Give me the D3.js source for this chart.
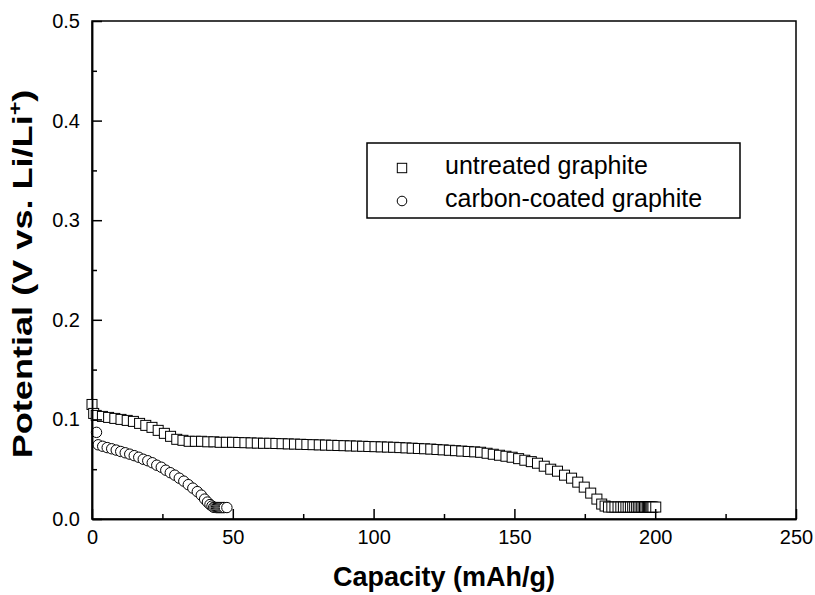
<!DOCTYPE html>
<html>
<head>
<meta charset="utf-8">
<script src="https://cdn.jsdelivr.net/npm/d3@7"></script>
<style>
  body { margin: 0; background: #fff; }
  svg { font-family: "Liberation Sans", Arial, sans-serif; }
</style>
</head>
<body>
<div id="chart"></div>
<script>
// data
const untreatedCap = [0, 0.6, 1.5, 3.7, 5.9, 8.1, 10.3, 12.5, 14.7, 16.9, 19.1, 21.3, 23.5, 25.7, 27.9, 30.1,
  32.3, 34.5, 36.7, 38.9, 41.1, 43.3, 45.5, 47.7, 49.9, 52.1, 54.3, 56.5, 58.7, 60.9, 63.1, 65.3, 67.5,
  69.7, 71.9, 74.1, 76.3, 78.5, 80.7, 82.9, 85.1, 87.3, 89.5, 91.7, 93.9, 96.1, 98.3, 100.5, 102.7, 104.9,
  107.1, 109.3, 111.5, 113.7, 115.9, 118.1, 120.3, 122.5, 124.7, 126.9, 129.1, 131.3, 133.6, 135.9,
  138.0, 140.3, 142.5, 144.7, 147.0, 149.2, 151.5, 153.7, 156.0, 158.2, 160.6, 162.9, 165.3, 167.8,
  170.3, 172.5, 174.8, 177.1, 179.3, 181.0, 182.2,
  183.4, 184.6, 185.7, 186.8, 187.8, 188.7, 189.6, 190.4, 191.2, 192.0, 192.7, 193.4, 194.0, 194.6,
  195.2, 195.7, 196.2, 196.7, 197.2, 197.6, 198.0, 198.4, 198.8, 199.2, 200.2];
const untreatedPot = [0.115, 0.106, 0.104, 0.103, 0.102, 0.101, 0.100, 0.099, 0.098, 0.096, 0.094, 0.092,
  0.089, 0.086, 0.083, 0.080, 0.079, 0.078, 0.078, 0.078, 0.0775, 0.0775, 0.077, 0.077, 0.077, 0.0768,
  0.0766, 0.0764, 0.0762, 0.076, 0.076, 0.0758, 0.0756, 0.0754, 0.0752, 0.075, 0.0748, 0.0746, 0.0744,
  0.0742, 0.074, 0.0738, 0.0736, 0.0734, 0.0732, 0.073, 0.0728, 0.0726, 0.0724, 0.0722, 0.072, 0.0717,
  0.0714, 0.0711, 0.0708, 0.0705, 0.0702, 0.0698, 0.0694, 0.069, 0.0686, 0.0682, 0.0678, 0.0674,
  0.067, 0.066, 0.065, 0.064, 0.063, 0.062, 0.0606, 0.059, 0.0576, 0.056, 0.053, 0.050, 0.048, 0.044,
  0.041, 0.037, 0.032, 0.026, 0.020, 0.015, 0.013,
  0.012, 0.012, 0.012, 0.012, 0.012, 0.012, 0.012, 0.012, 0.012, 0.012, 0.012, 0.012, 0.012, 0.012,
  0.012, 0.012, 0.012, 0.012, 0.012, 0.012, 0.012, 0.012, 0.012, 0.012, 0.012];

const coatedCap = [1.6, 2.2, 3.8, 5.4, 7.0, 8.6, 10.2, 11.8, 13.4, 15.0, 16.6, 18.2, 19.8, 21.4, 23.0,
  24.6, 26.2, 27.8, 29.4, 31.0, 32.6, 34.2, 35.8, 37.4, 38.8, 40.0, 41.0, 41.9, 42.6,
  43.2, 43.7, 44.2, 44.6, 45.0, 45.4, 45.8, 46.2, 46.6, 47.0, 47.9];
const coatedPot = [0.087, 0.0745, 0.073, 0.0717, 0.0705, 0.0692, 0.0678, 0.0665, 0.0651, 0.0636, 0.062,
  0.060, 0.0585, 0.0565, 0.054, 0.052, 0.049, 0.0465, 0.044, 0.041, 0.038, 0.0345, 0.031, 0.0275,
  0.024, 0.020, 0.017, 0.0145, 0.013,
  0.0118, 0.0116, 0.0115, 0.0115, 0.0115, 0.0115, 0.0115, 0.0115, 0.0115, 0.0115, 0.0115];

const xMajor = [0, 50, 100, 150, 200, 250];
const xMinor = [25, 75, 125, 175, 225];
const yMajor = [0, 0.1, 0.2, 0.3, 0.4, 0.5];
const yMinor = [0.05, 0.15, 0.25, 0.35, 0.45];

const seriesNames = ["untreated graphite", "carbon-coated graphite"];

const width = 815;
const height = 595;
const margin = { left: 92, right: 19, top: 21, bottom: 76 };
const innerWidth = width - margin.left - margin.right;
const innerHeight = height - margin.top - margin.bottom;

const svg = d3.select("#chart")
  .append("svg")
  .attr("width", width)
  .attr("height", height);

const g = svg.append("g")
  .attr("transform", `translate(${margin.left}, ${margin.top})`);

const x = d3.scaleLinear().domain([0, 250]).range([0, innerWidth]);
const y = d3.scaleLinear().domain([0, 0.5]).range([innerHeight, 0]);

// frame (top + right)
g.append("rect")
  .attr("width", innerWidth)
  .attr("height", innerHeight)
  .attr("fill", "none")
  .attr("stroke", "#000")
  .attr("stroke-width", 1.5);

// data markers
const sq = 10;
const rad = 5.2;
g.append("g")
  .selectAll("rect")
  .data(untreatedCap.map((c, i) => ({ c: c, v: untreatedPot[i] })))
  .enter()
  .append("rect")
  .attr("x", d => x(d.c) - sq / 2)
  .attr("y", d => y(d.v) - sq / 2)
  .attr("width", sq)
  .attr("height", sq)
  .attr("fill", "#fff")
  .attr("stroke", "#000")
  .attr("stroke-width", 1);

g.append("g")
  .selectAll("circle")
  .data(coatedCap.map((c, i) => ({ c: c, v: coatedPot[i] })))
  .enter()
  .append("circle")
  .attr("cx", d => x(d.c))
  .attr("cy", d => y(d.v))
  .attr("r", rad)
  .attr("fill", "#fff")
  .attr("stroke", "#000")
  .attr("stroke-width", 1);

// axes (ticks point inward)
const xAxis = g.append("g")
  .attr("transform", `translate(0, ${innerHeight})`)
  .call(d3.axisBottom(x).tickValues(xMajor).tickSize(-10).tickSizeOuter(0).tickFormat(d3.format("d")));
g.append("g")
  .attr("transform", `translate(0, ${innerHeight})`)
  .call(d3.axisBottom(x).tickValues(xMinor).tickSize(-5).tickSizeOuter(0).tickFormat(""));

const yAxis = g.append("g")
  .call(d3.axisLeft(y).tickValues(yMajor).tickSize(-10).tickSizeOuter(0).tickPadding(12).tickFormat(d3.format(".1f")));
g.append("g")
  .call(d3.axisLeft(y).tickValues(yMinor).tickSize(-5).tickSizeOuter(0).tickFormat(""));

g.selectAll(".domain").attr("stroke-width", 1.5);
g.selectAll(".tick line").attr("stroke-width", 1.5);

xAxis.selectAll("text")
  .attr("y", 25)
  .attr("dy", null)
  .style("font-size", "20px")
  .attr("font-family", null);
yAxis.selectAll("text")
  .style("font-size", "20px")
  .attr("font-family", null);

// axis titles
g.append("text")
  .attr("x", innerWidth / 2)
  .attr("y", innerHeight + 67)
  .attr("text-anchor", "middle")
  .style("font-size", "27px")
  .style("font-weight", "bold")
  .text("Capacity (mAh/g)");

// y title is drawn stretched along its length, as in the picture
const stretch = 1.29;
const yt = g.append("text")
  .attr("transform", `rotate(-90) scale(${stretch}, 1)`)
  .attr("x", -253 / stretch)
  .attr("y", -60)
  .attr("text-anchor", "middle")
  .style("font-size", "28px")
  .style("font-weight", "bold");
yt.append("tspan").text("Potential (V vs. Li/Li");
yt.append("tspan").attr("dy", -11).style("font-size", "18px").text("+");
yt.append("tspan").attr("dy", 11).text(")");

// legend
const legend = svg.append("g").attr("transform", "translate(367, 143)");
legend.append("rect")
  .attr("width", 373)
  .attr("height", 75)
  .attr("fill", "#fff")
  .attr("stroke", "#000")
  .attr("stroke-width", 1.5);

legend.append("rect")
  .attr("x", 35 - 4.7).attr("y", 25 - 4.7)
  .attr("width", 9.4).attr("height", 9.4)
  .attr("fill", "#fff").attr("stroke", "#000");
legend.append("circle")
  .attr("cx", 35).attr("cy", 58)
  .attr("r", 4.8)
  .attr("fill", "#fff").attr("stroke", "#000");

legend.selectAll("text.lbl")
  .data(seriesNames)
  .enter()
  .append("text")
  .attr("class", "lbl")
  .attr("x", 78)
  .attr("y", (d, i) => 31 + i * 33)
  .style("font-size", "25px")
  .text(d => d);
</script>
</body>
</html>
